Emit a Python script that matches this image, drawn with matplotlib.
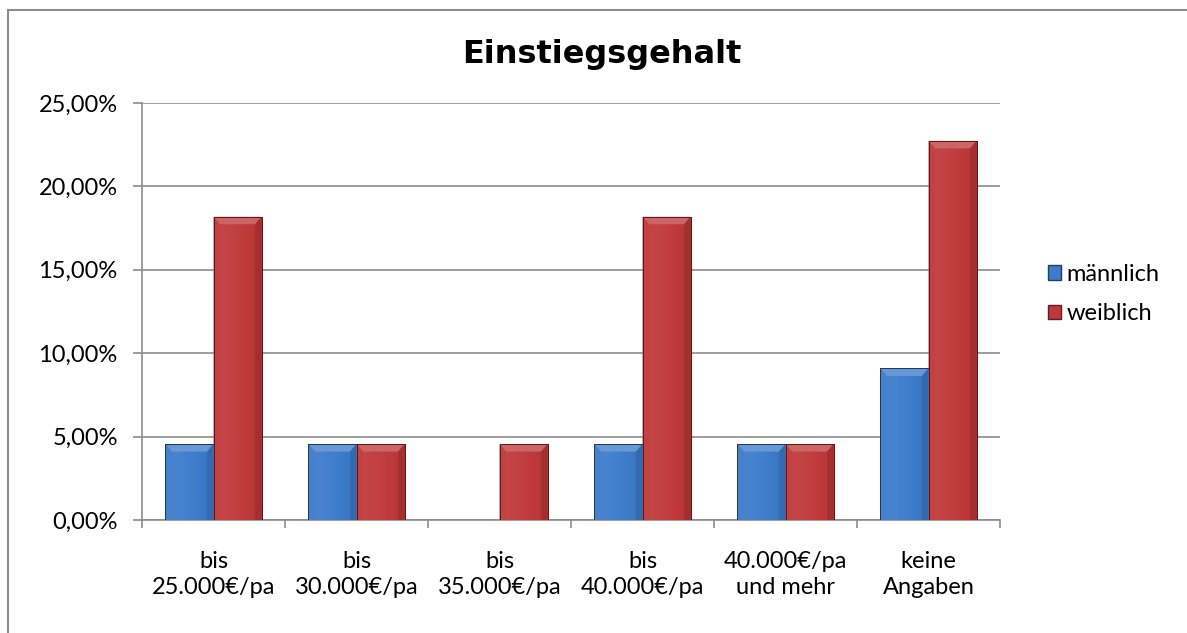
import matplotlib
matplotlib.use("Agg")
import matplotlib.pyplot as plt
import numpy as np
from matplotlib.patches import Polygon, Rectangle
from matplotlib.lines import Line2D
import matplotlib.colors as mcolors

categories = ["bis\n25.000€/pa", "bis\n30.000€/pa", "bis\n35.000€/pa",
              "bis\n40.000€/pa", "40.000€/pa\nund mehr", "keine\nAngaben"]
maennlich = [4.55, 4.55, 0.0, 4.55, 4.55, 9.09]
weiblich = [18.18, 4.55, 4.55, 18.18, 4.55, 22.73]
series_names = ["männlich", "weiblich"]
yticks = [0, 5, 10, 15, 20, 25]

plt.rcParams['font.family'] = ['Lato', 'DejaVu Sans']

fig = plt.figure(figsize=(11.87, 6.33), dpi=100)
ax = fig.add_axes([142/1187, 1-520/633, (1000-142)/1187, (520-103)/633])

blue = "#3d7ccb"
red = "#c0393a"
colors = [blue, red]
width = 0.336
x = np.arange(len(categories))

def shade(c, f):
    r = np.array(mcolors.to_rgb(c))
    if f > 0:
        return tuple(r + (1 - r) * f)
    return tuple(r * (1 + f))

for si, (vals, col) in enumerate(zip([maennlich, weiblich], colors)):
    offs = (si - 0.5) * width
    bars = ax.bar(x + offs, vals, width, color=col, edgecolor='none',
                  linewidth=0, zorder=3, label=series_names[si])
    for b in bars:
        h = b.get_height()
        if h <= 0:
            continue
        x0, w = b.get_x(), b.get_width()
        grad = np.linspace(0, 1, 64)
        prof = 0.06 - 0.14 * grad ** 2
        img = np.array([[shade(col, p) for p in prof]])
        im = ax.imshow(img, extent=[x0, x0 + w, 0, h], aspect='auto',
                       zorder=3.5, interpolation='bilinear')
        im.set_clip_path(b)
        bx = 0.045
        by = 0.45
        top = Polygon([[x0, h], [x0 + w, h], [x0 + w - bx, h - by], [x0 + bx, h - by]],
                      closed=True, facecolor=shade(col, 0.22), edgecolor='none', zorder=4)
        ax.add_patch(top)
        lft = Polygon([[x0, h], [x0 + bx, h - by], [x0 + bx, 0], [x0, 0]],
                      closed=True, facecolor=shade(col, 0.04), edgecolor='none', zorder=4)
        ax.add_patch(lft)
        rgt = Polygon([[x0 + w, h], [x0 + w - bx, h - by], [x0 + w - bx, 0], [x0 + w, 0]],
                      closed=True, facecolor=shade(col, -0.15), edgecolor='none', zorder=4)
        ax.add_patch(rgt)
        ax.add_patch(Rectangle((x0, 0), w, h, facecolor='none',
                               edgecolor=shade(col, -0.55), linewidth=0.7, zorder=4.5))

ax.set_xlim(-0.5, len(categories) - 0.5)
ax.set_ylim(0, 25)
ax.set_yticks(yticks)
ax.set_yticklabels([f"{v:.2f}%".replace('.', ',') for v in yticks], fontsize=17)
ax.set_xticks(x)
ax.set_xticklabels(categories, fontsize=17, linespacing=1.3)
ax.tick_params(axis='x', length=0, pad=22)
ax.tick_params(axis='y', length=6.5, color='#8c8c8c', width=1.2, pad=11)
ax.set_xticks(np.arange(-0.5, len(categories)), minor=True)
ax.tick_params(axis='x', which='minor', length=5.5, color='#8c8c8c', width=1.2)
ax.grid(axis='y', color='#8c8c8c', linewidth=1.2, zorder=0)
ax.set_axisbelow(True)
for s in ['top', 'right']:
    ax.spines[s].set_visible(False)
for s in ['left', 'bottom']:
    ax.spines[s].set_color('#8c8c8c')
    ax.spines[s].set_linewidth(1.2)

fig.text(602/1187, 1-55/633, "Einstiegsgehalt", ha='center', va='center',
         fontsize=23, fontweight='bold', family='DejaVu Sans')

handles = [Rectangle((0, 0), 1, 1, facecolor=c, edgecolor=shade(c, -0.5)) for c in colors]
leg = fig.legend(handles, series_names, loc='center left',
                 bbox_to_anchor=(1036/1187, 1-294/633), frameon=False,
                 fontsize=17, handlelength=0.55, handleheight=0.55,
                 handletextpad=0.25, labelspacing=0.78, borderpad=0)

fig.add_artist(Line2D([8/1187, 8/1187], [0, 1-10/633], transform=fig.transFigure,
                      color='#8c8c8c', linewidth=1.5))
fig.add_artist(Line2D([8/1187, 1], [1-10/633, 1-10/633], transform=fig.transFigure,
                      color='#8c8c8c', linewidth=1.5))

fig.savefig("out.png", dpi=100)
